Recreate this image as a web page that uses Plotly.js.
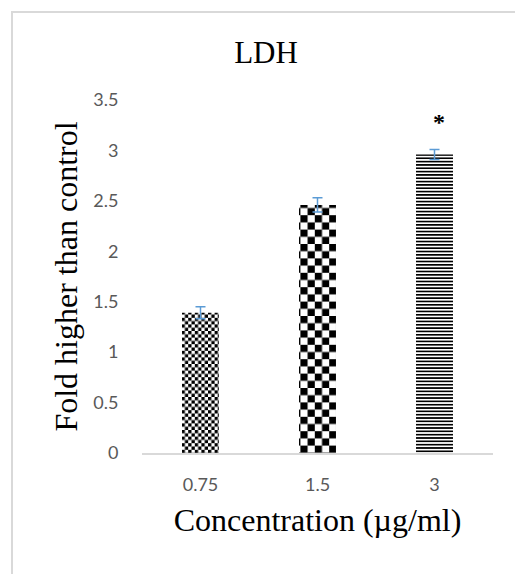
<!DOCTYPE html>
<html>
<head>
<meta charset="utf-8">
<script src="https://cdn.plot.ly/plotly-3.0.1.min.js"></script>
<style>
  html, body { margin: 0; padding: 0; background: #fff; }
  #chart { width: 515px; height: 574px; }
</style>
</head>
<body>
<div id="chart"></div>
<script>
// ---- data ----
const categories = ['0.75', '1.5', '3'];
const foldValues = [1.39, 2.46, 2.96];
const foldErrors = [0.06, 0.07, 0.05];
const significance = ['', '', '*'];
const chartTitle = 'LDH';
const xTitle = 'Concentration (µg/ml)';
const yTitle = 'Fold higher than control';
const yTickVals = [0, 0.5, 1, 1.5, 2, 2.5, 3, 3.5];

const serif = 'Liberation Serif, Times New Roman, serif';
const sans = 'Lato, Open Sans, sans-serif';

const trace = {
  type: 'bar',
  x: categories,
  y: foldValues,
  marker: {
    color: '#000000',
    line: { width: 0 },
    pattern: {
      shape: ['.', '.', '-'],
      size: [4.7, 10, 3.33],
      solidity: [0.5, 0.5, 0.5],
      fgcolor: '#000000',
      bgcolor: '#ffffff',
      fillmode: 'replace'
    }
  },
  error_y: {
    type: 'data',
    array: foldErrors,
    visible: true,
    color: '#5b9bd5',
    thickness: 1.5,
    width: 5
  },
  hoverinfo: 'skip'
};

const annotations = [];
categories.forEach((c, i) => {
  if (significance[i]) {
    annotations.push({
      x: i, y: foldValues[i] + foldErrors[i],
      xref: 'x', yref: 'y',
      text: '<b>' + significance[i] + '</b>',
      showarrow: false,
      yanchor: 'bottom',
      xshift: 4,
      yshift: 12,
      font: { family: serif, size: 24, color: '#000' }
    });
  }
});

const layout = {
  width: 515,
  height: 574,
  margin: { l: 142, r: 22, t: 100, b: 121, pad: 0 },
  paper_bgcolor: '#ffffff',
  plot_bgcolor: '#ffffff',
  showlegend: false,
  bargap: 0.684,
  title: {
    text: chartTitle,
    font: { family: serif, size: 31, color: '#000' },
    xref: 'container', x: 0.5165, xanchor: 'center',
    yref: 'container', y: 0.909, yanchor: 'middle'
  },
  xaxis: {
    type: 'category',
    range: [-0.5, 2.5],
    showgrid: false,
    zeroline: false,
    showline: true,
    linecolor: '#d9d9d9',
    linewidth: 1.5,
    ticks: 'outside',
    ticklen: 15,
    tickcolor: 'rgba(0,0,0,0)',
    tickfont: { family: sans, size: 18, color: '#595959' },
    title: { text: xTitle, font: { family: serif, size: 32, color: '#000' }, standoff: 14 },
    automargin: false,
    fixedrange: true
  },
  yaxis: {
    range: [0, 3.5],
    tickvals: yTickVals,
    showgrid: false,
    zeroline: false,
    showline: false,
    ticks: 'outside',
    ticklen: 19,
    tickcolor: 'rgba(0,0,0,0)',
    tickfont: { family: sans, size: 18, color: '#595959' },
    title: { text: yTitle, font: { family: serif, size: 32, color: '#000' }, standoff: 6 },
    automargin: false,
    fixedrange: true
  },
  annotations: annotations,
  shapes: [{
    type: 'path',
    xref: 'paper', yref: 'paper',
    path: 'M -0.3704,-0.40 L -0.3704,1.2493 L 1.10,1.2493',
    line: { color: '#d9d9d9', width: 2 }
  }]
};

function addCheckerPatterns(gd) {
  const svg = gd.querySelector('svg.main-svg');
  if (!svg) return;
  let defs = svg.querySelector('defs');
  const NS = 'http://www.w3.org/2000/svg';
  if (!defs) { defs = document.createElementNS(NS, 'defs'); svg.insertBefore(defs, svg.firstChild); }
  function makeChecker(id, s) {
    const p = document.createElementNS(NS, 'pattern');
    p.setAttribute('id', id);
    p.setAttribute('patternUnits', 'userSpaceOnUse');
    p.setAttribute('width', 2 * s);
    p.setAttribute('height', 2 * s);
    const bg = document.createElementNS(NS, 'rect');
    bg.setAttribute('x', 0); bg.setAttribute('y', 0);
    bg.setAttribute('width', 2 * s); bg.setAttribute('height', 2 * s);
    bg.setAttribute('fill', '#ffffff');
    p.appendChild(bg);
    [[0, 0], [s, s]].forEach(([x, y]) => {
      const r = document.createElementNS(NS, 'rect');
      r.setAttribute('x', x); r.setAttribute('y', y);
      r.setAttribute('width', s); r.setAttribute('height', s);
      r.setAttribute('fill', '#000000');
      p.appendChild(r);
    });
    defs.appendChild(p);
  }
  makeChecker('chk-small', 3.3);
  makeChecker('chk-large', 7.2);
  const paths = gd.querySelectorAll('.barlayer .point path');
  const fills = ['url(#chk-small)', 'url(#chk-large)', null];
  paths.forEach((el, i) => { if (fills[i]) el.style.fill = fills[i]; });
}

Plotly.newPlot('chart', [trace], layout, { staticPlot: true, displayModeBar: false })
  .then(addCheckerPatterns);
</script>
</body>
</html>
